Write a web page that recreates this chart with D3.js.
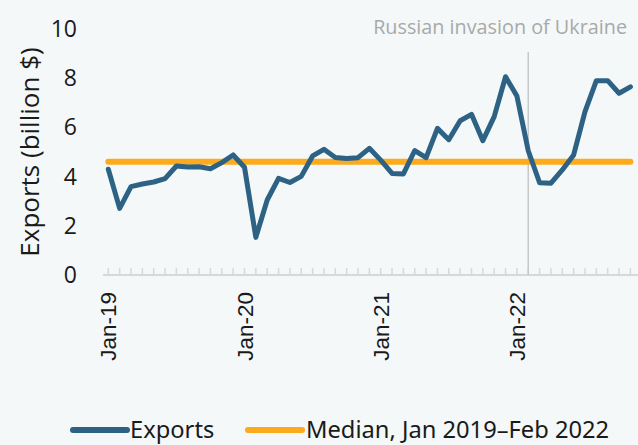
<!DOCTYPE html>
<html><head><meta charset="utf-8">
<script src="https://cdn.jsdelivr.net/npm/d3@7"></script>
<style>
html,body{margin:0;padding:0;background:#f4f8f8;}
svg{display:block;}
</style></head>
<body>
<svg id="chart" width="638" height="445"></svg>
<script>
const months = ["Jan-19","Feb-19","Mar-19","Apr-19","May-19","Jun-19","Jul-19","Aug-19","Sep-19","Oct-19","Nov-19","Dec-19",
"Jan-20","Feb-20","Mar-20","Apr-20","May-20","Jun-20","Jul-20","Aug-20","Sep-20","Oct-20","Nov-20","Dec-20",
"Jan-21","Feb-21","Mar-21","Apr-21","May-21","Jun-21","Jul-21","Aug-21","Sep-21","Oct-21","Nov-21","Dec-21",
"Jan-22","Feb-22","Mar-22","Apr-22","May-22","Jun-22","Jul-22","Aug-22","Sep-22","Oct-22","Nov-22"];
const exportsVals = [4.30,2.71,3.59,3.70,3.78,3.92,4.43,4.39,4.40,4.32,4.57,4.88,
4.38,1.53,3.05,3.93,3.76,4.01,4.84,5.11,4.78,4.74,4.77,5.15,
4.67,4.13,4.11,5.06,4.77,5.96,5.50,6.27,6.53,5.46,6.44,8.06,
7.28,5.05,3.75,3.73,4.27,4.88,6.64,7.90,7.90,7.39,7.65];
const medianValue = 4.6;
const yTicks = [0,2,4,6,8,10];
const xLabelMonths = ["Jan-19","Jan-20","Jan-21","Jan-22"];
const invasionMonth = "Feb-22";
const annotation = "Russian invasion of Ukraine";
const yTitle = "Exports (billion $)";
const legendItems = ["Exports","Median, Jan 2019\u2013Feb 2022"];

const BLUE = "#2d6285", ORANGE = "#fbab1d";
const svg = d3.select("#chart");
const x = d3.scalePoint().domain(months).range([108.3, 630.4]);
const y = d3.scaleLinear().domain([0,10]).range([275, 29]);

// y tick labels
svg.append("g").selectAll("text").data(yTicks).join("text")
  .attr("x", 77).attr("y", d => y(d)).attr("dy", "0.35em")
  .attr("text-anchor","end").attr("font-family","Open Sans").attr("font-size",23).attr("fill","#1a1a1a")
  .text(d => d);

// y title
svg.append("text").attr("transform","translate(39,152) rotate(-90)")
  .attr("text-anchor","middle").attr("font-family","Open Sans").attr("font-size",26).attr("fill","#1a1a1a")
  .text(yTitle);

// x axis baseline & ticks
const axisY = y(0);
svg.append("line").attr("x1",103).attr("x2",638).attr("y1",axisY).attr("y2",axisY)
  .attr("stroke","#d8d8d8").attr("stroke-width",2);
svg.append("g").selectAll("line").data(months).join("line")
  .attr("x1", d => x(d)).attr("x2", d => x(d)).attr("y1", axisY).attr("y2", axisY-7)
  .attr("stroke","#d8d8d8").attr("stroke-width",1.5);
svg.append("line").attr("x1",x("Nov-22")+11.35).attr("x2",x("Nov-22")+11.35).attr("y1",axisY).attr("y2",axisY-7)
  .attr("stroke","#d8d8d8").attr("stroke-width",1.5);

// x labels
svg.append("g").selectAll("text").data(xLabelMonths).join("text")
  .attr("transform", d => `translate(${x(d)+8},292) rotate(-90)`)
  .attr("text-anchor","end").attr("font-family","Liberation Sans").attr("font-size",22.5).attr("fill","#1a1a1a")
  .text(d => d);

// invasion line
svg.append("line").attr("x1",x(invasionMonth)).attr("x2",x(invasionMonth)).attr("y1",52).attr("y2",axisY)
  .attr("stroke","#c8c8c8").attr("stroke-width",1.5);
svg.append("text").attr("x",627).attr("y",34).attr("text-anchor","end")
  .attr("font-family","Open Sans").attr("font-size",19.8).attr("fill","#a9a9a9").text(annotation);

// median line
svg.append("line").attr("x1",x(months[0])).attr("x2",x(months[months.length-1]))
  .attr("y1",y(medianValue)).attr("y2",y(medianValue))
  .attr("stroke",ORANGE).attr("stroke-width",6).attr("stroke-linecap","round");

// exports line
const line = d3.line().x((d,i)=>x(months[i])).y(d=>y(d));
svg.append("path").datum(exportsVals).attr("d",line).attr("fill","none")
  .attr("stroke",BLUE).attr("stroke-width",5).attr("stroke-linejoin","round").attr("stroke-linecap","round");

// legend
const leg = svg.append("g");
const legColors = [BLUE, ORANGE];
const legX = [[73,127,130],[248,302,306]];
legendItems.forEach((t,i)=>{
  leg.append("line").attr("x1",legX[i][0]).attr("x2",legX[i][1]).attr("y1",430).attr("y2",430)
    .attr("stroke",legColors[i]).attr("stroke-width",6).attr("stroke-linecap","round");
  leg.append("text").attr("x",legX[i][2]).attr("y",430).attr("dy","0.35em")
    .attr("font-family","Noto Sans").attr("font-size",23.7).attr("fill","#1a1a1a").text(t);
});
</script>
</body></html>
